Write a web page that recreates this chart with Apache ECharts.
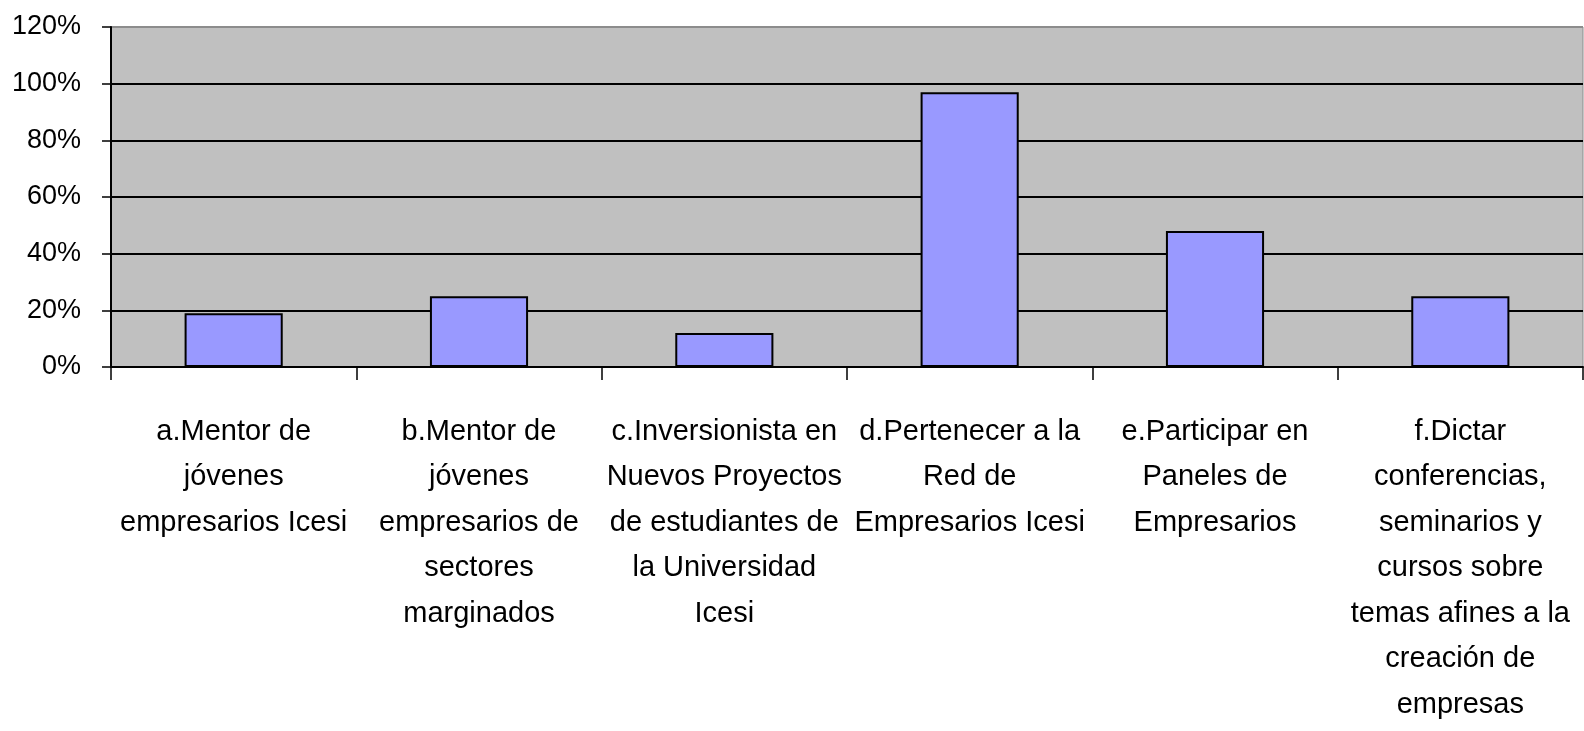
<!DOCTYPE html>
<html>
<head>
<meta charset="utf-8">
<script src="https://cdn.jsdelivr.net/npm/echarts@6/dist/echarts.min.js"></script>
<style>
    html, body { margin: 0; padding: 0; background: #fff; }
    #main { width: 1584px; height: 731px; }
</style>
</head>
<body>
<div id="main"></div>
<script>
// categorias (con saltos de linea como en el original)
var categorias = [
    'a.Mentor de\njóvenes\nempresarios Icesi',
    'b.Mentor de\njóvenes\nempresarios de\nsectores\nmarginados',
    'c.Inversionista en\nNuevos Proyectos\nde estudiantes de\nla Universidad\nIcesi',
    'd.Pertenecer a la\nRed de\nEmpresarios Icesi',
    'e.Participar en\nPaneles de\nEmpresarios',
    'f.Dictar\nconferencias,\nseminarios y\ncursos sobre\ntemas afines a la\ncreación de\nempresas'
];
// porcentajes
var valores = [19, 25, 12, 97, 48, 25];
var ticksY = [0, 20, 40, 60, 80, 100, 120];

var fuente = '"Liberation Sans", Arial, sans-serif';

var dom = document.getElementById('main');
var myChart = echarts.init(dom, null, { renderer: 'canvas' });

var option = {
    animation: false,
    grid: {
        left: 111,
        right: 1,
        top: 27,
        bottom: 364,
        show: true,
        backgroundColor: '#c0c0c0',
        borderColor: '#8c8c8c',
        borderWidth: 1
    },
    xAxis: {
        type: 'category',
        data: categorias,
        axisLine: { lineStyle: { color: '#000', width: 2 } },
        axisTick: { show: true, length: 13, lineStyle: { color: '#000', width: 1.5 } },
        axisLabel: {
            interval: 0,
            margin: 42,
            color: '#000',
            fontFamily: fuente,
            fontSize: 29,
            lineHeight: 45.5,
            align: 'center'
        },
        splitLine: { show: false }
    },
    yAxis: {
        type: 'value',
        min: ticksY[0],
        max: ticksY[ticksY.length - 1],
        interval: 20,
        axisLine: { show: true, lineStyle: { color: '#000', width: 2 } },
        axisTick: { show: true, length: 9, lineStyle: { color: '#000', width: 1.5 } },
        axisLabel: {
            margin: 30,
            color: '#000',
            fontFamily: fuente,
            fontSize: 27,
            formatter: '{value}%'
        },
        splitLine: {
            show: true,
            lineStyle: {
                // la linea de 120% es el borde gris
                color: ['#000', '#000', '#000', '#000', '#000', '#000', '#8c8c8c'],
                width: 2
            }
        }
    },
    series: [{
        type: 'bar',
        data: valores,
        barCategoryGap: '60%',
        itemStyle: {
            color: '#9999ff',
            borderColor: '#000',
            borderWidth: 2
        }
    }]
};

myChart.setOption(option);
</script>
</body>
</html>
